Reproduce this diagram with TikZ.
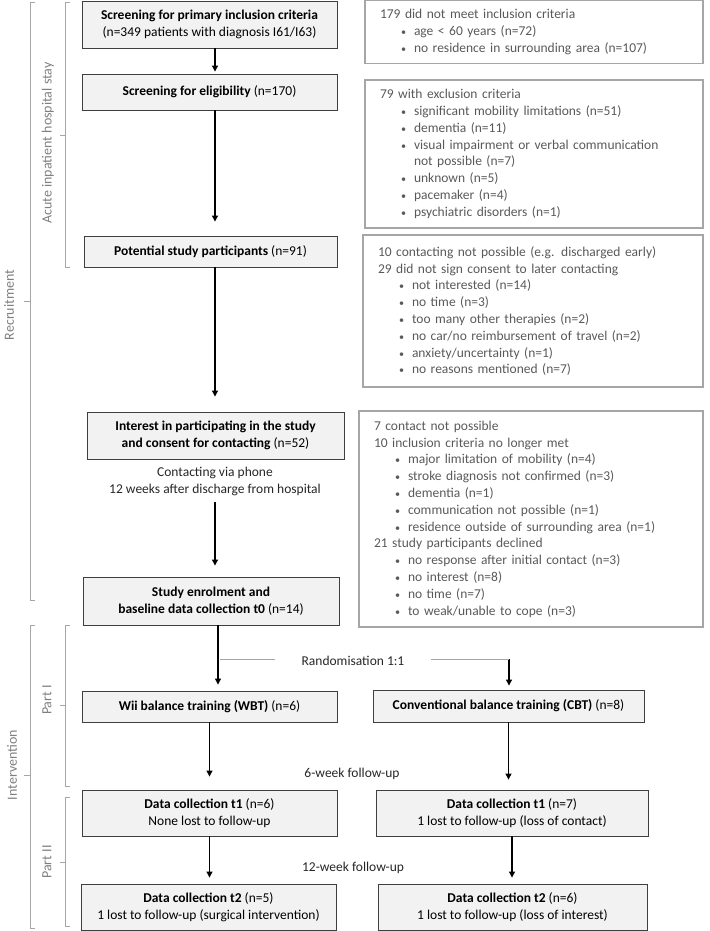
\documentclass[tikz,border=0pt]{standalone}
\usepackage{fontspec}
\setmainfont{Carlito}
\usetikzlibrary{arrows.meta,positioning}

\definecolor{boxfill}{HTML}{F2F2F2}
\definecolor{boxline}{HTML}{3F3F3F}
\definecolor{reasonline}{HTML}{A6A6A6}
\definecolor{reasontext}{HTML}{595959}
\definecolor{bracketline}{HTML}{A6A6A6}

\newcommand{\bul}[1]{\\\hspace*{21pt}\makebox[13pt][l]{\scalebox{0.75}{\textbullet}}#1}

\tikzset{
    stage/.style={draw=boxline, fill=boxfill, line width=0.9pt, align=center,
        minimum width=255pt, inner sep=0pt, font=\fontsize{13.5}{17}\selectfont},
    reason/.style={draw=reasonline, line width=1.1pt, align=left, inner xsep=15pt,
        inner ysep=0pt, text=reasontext, font=\fontsize{13.5}{16.8}\selectfont},
    note/.style={align=center, text=black!85, font=\fontsize{13.5}{17}\selectfont},
    side/.style={rotate=90, text=black!50, font=\fontsize{14}{16}\selectfont},
    bracket/.style={draw=bracketline, line width=0.9pt},
}

\begin{document}
\begin{tikzpicture}[x=1pt, y=-1pt, >={Triangle[length=6pt,width=6pt]}, line width=1.1pt]
    \useasboundingbox (0, 0) rectangle (709, 931);

    % recruitment column
    \node[stage, minimum height=47pt] at (209.5, 24.5)(scr){\textbf{Screening for primary inclusion criteria}\\(n=349 patients with diagnosis I61/I63)};
    \node[stage, minimum height=36pt] at (209.5, 92)(elig){\textbf{Screening for eligibility} (n=170)};
    \node[stage, minimum width=253pt, minimum height=31pt] at (210.5, 251.5)(pot){\textbf{Potential study participants} (n=91)};
    \node[stage, minimum width=257pt, minimum height=47pt] at (215.5, 435.5)(int){\textbf{Interest in participating in the study}\\\textbf{and consent for contacting} (n=52)};
    \node[note] at (215, 481.5)(call){Contacting via phone\\12 weeks after discharge from hospital};
    \node[stage, minimum width=256pt, minimum height=48pt] at (211, 601)(enrol){\textbf{Study enrolment and}\\\textbf{baseline data collection t0} (n=14)};

    % reasons for dropping out
    \node[reason, text width=308pt, minimum height=63pt] at (534, 32)(drop1){179 did not meet inclusion criteria
        \bul{age < 60 years (n=72)}
        \bul{no residence in surrounding area (n=107)}};
    \node[reason, text width=308pt, minimum height=148pt] at (534, 154)(drop2){79 with exclusion criteria
        \bul{significant mobility limitations (n=51)}
        \bul{dementia (n=11)}
        \bul{visual impairment or verbal communication}
        \\\hspace*{34pt}not possible (n=7)
        \bul{unknown (n=5)}
        \bul{pacemaker (n=4)}
        \bul{psychiatric disorders (n=1)}};
    \node[reason, text width=310pt, minimum height=152pt] at (533, 311)(drop3){10 contacting not possible (e.g. discharged early)
        \\29 did not sign consent to later contacting
        \bul{not interested (n=14)}
        \bul{no time (n=3)}
        \bul{too many other therapies (n=2)}
        \bul{no car/no reimbursement of travel (n=2)}
        \bul{anxiety/uncertainty (n=1)}
        \bul{no reasons mentioned (n=7)}};
    \node[reason, text width=314pt, minimum height=216pt] at (531, 519)(drop4){7 contact not possible
        \\10 inclusion criteria no longer met
        \bul{major limitation of mobility (n=4)}
        \bul{stroke diagnosis not confirmed (n=3)}
        \bul{dementia (n=1)}
        \bul{communication not possible (n=1)}
        \bul{residence outside of surrounding area (n=1)}
        \\21 study participants declined
        \bul{no response after initial contact (n=3)}
        \bul{no interest (n=8)}
        \bul{no time (n=7)}
        \bul{to weak/unable to cope (n=3)}};

    % intervention
    \node[note] at (353, 661)(rand){Randomisation 1:1};
    \coordinate (split) at (509, 659);
    \node[stage, minimum height=31pt] at (209.5, 706.5)(wbt){\textbf{Wii balance training (WBT)} (n=6)};
    \node[stage, minimum width=271pt, minimum height=32pt] at (508.5, 706)(cbt){\textbf{Conventional balance training (CBT)} (n=8)};
    \node[note] at (352, 774)(fu6){6-week follow-up};
    \node[stage, minimum height=46pt] at (209.5, 813)(t1a){\textbf{Data collection t1} (n=6)\\None lost to follow-up};
    \node[stage, minimum width=272pt, minimum height=46pt] at (512, 813)(t1b){\textbf{Data collection t1} (n=7)\\1 lost to follow-up (loss of contact)};
    \node[note] at (353, 868)(fu12){12-week follow-up};
    \node[stage, minimum height=46pt] at (208.5, 907)(t2a){\textbf{Data collection t2} (n=5)\\1 lost to follow-up (surgical intervention)};
    \node[stage, minimum width=269pt, minimum height=46pt] at (512.5, 907)(t2b){\textbf{Data collection t2} (n=6)\\1 lost to follow-up (loss of interest)};

    \path[->]
        (scr.south -| call)edge[shorten >=2pt](elig.north -| call)
        (elig.south -| call)edge[shorten >=14pt](pot.north -| call)
        (pot.south -| call)edge[shorten >=15pt](int.north -| call)
        (call)edge[shorten <=2pt, shorten >=11pt](call |- enrol.north)
        ([xshift=7pt]enrol.south)edge[shorten >=6pt]([xshift=8.5pt]wbt.north)
        (split)edge[shorten >=4pt](split |- cbt.north)
        (wbt)edge[shorten >=13pt](t1a)
        (cbt.south)edge[shorten >=10pt](cbt.south |- t1b.north)
        (t1a.south)edge[shorten >=6pt](t1a.south |- t2a.north)
        (t1b.south)edge[shorten >=6pt](t1b.south |- t2b.north)
        ;
    \draw[bracket] ([xshift=-23pt]rand.west |- split) -- ++(-55, 0);
    \draw[bracket] ([xshift=23pt]rand.east |- split) -- (split);

    % phase brackets
    \draw[bracket] (35, 2) -- (30, 2) -- (30, 600) -- (35, 600) (30, 301) -- (24, 301);
    \draw[bracket] (70, 2) -- (65, 2) -- (65, 267) -- (70, 267) (65, 135) -- (60, 135);
    \draw[bracket] (35, 625) -- (30, 625) -- (30, 928) -- (35, 928) (30, 775) -- (24, 775);
    \draw[bracket] (70, 625) -- (65, 625) -- (65, 786) -- (70, 786) (65, 705) -- (60, 705);
    \draw[bracket] (70, 797) -- (65, 797) -- (65, 926) -- (70, 926) (65, 862) -- (60, 862);
    \node[side] at (9, 305)(recr){Recruitment};
    \node[side] at (48, 143)(acute){Acute inpatient hospital stay};
    \node[side] at (12, 765)(interv){Intervention};
    \node[side] at (47, 700)(part1){Part I};
    \node[side] at (47, 862)(part2){Part II};
\end{tikzpicture}
\end{document}
